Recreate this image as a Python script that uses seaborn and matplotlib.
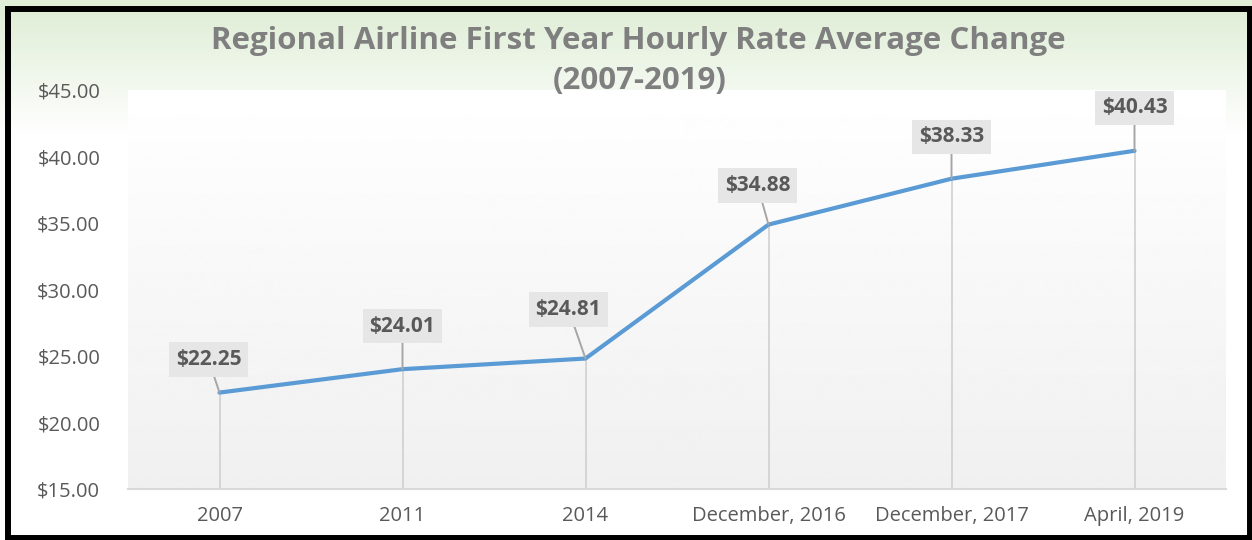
import numpy as np
import pandas as pd
import matplotlib
matplotlib.use('Agg')
import matplotlib.pyplot as plt
import seaborn as sns
from matplotlib.patches import Rectangle

# chart data
periods = ['2007', '2011', '2014', 'December, 2016', 'December, 2017', 'April, 2019']
hourly_rate = [22.25, 24.01, 24.81, 34.88, 38.33, 40.43]
y_ticks = [15, 20, 25, 30, 35, 40, 45]

# where each data label box sits relative to its point (pixels, x right / y up)
label_offsets = [(-11, 33), (0, 43), (-17, 49), (-11, 39), (0, 42), (0, 43)]

df = pd.DataFrame({'period': periods, 'rate': hourly_rate})

sns.set_style('white')
plt.rcParams['font.family'] = ['Open Sans', 'DejaVu Sans']

W, H = 1252, 540
fig = plt.figure(figsize=(W / 100, H / 100), dpi=100)

# figure background: light green at the top fading to white
bg = fig.add_axes([0, 0, 1, 1], zorder=-2)
rows = np.linspace(0, 1, H)
fade = np.clip((rows - 0.02) / 0.23, 0, 1)
top = np.array([224, 238, 215]) / 255
grad = top[None, :] * (1 - fade[:, None]) + fade[:, None]
bg.imshow(grad[:, None, :], aspect='auto', extent=[0, 1, 0, 1])
bg.axis('off')

# plot area
ax = fig.add_axes([128 / W, 51 / H, 1098 / W, 399 / H])
ax.patch.set_alpha(0)
shade = np.linspace(1.0, 0.94, 200)[:, None]
ax.imshow(shade, cmap='gray', vmin=0, vmax=1, extent=[0, 1, 0, 1],
          transform=ax.transAxes, aspect='auto', zorder=0)

xpos = np.arange(len(periods))
ax.vlines(xpos, y_ticks[0], hourly_rate, color='#d0d0d0', lw=1.2, zorder=1)
sns.lineplot(data=df, x='period', y='rate', color='#5b9bd5', lw=3, ax=ax, zorder=3)

# data labels with leader lines
for x, v, (dx, dy) in zip(xpos, hourly_rate, label_offsets):
    ax.annotate(f'${v:.2f}', xy=(x, v), xytext=(dx, dy), textcoords='offset pixels',
                ha='center', va='center', fontsize=15, fontweight='bold', color='#595959',
                bbox=dict(boxstyle='square,pad=0.32', fc='#e6e6e6', ec='none'),
                arrowprops=dict(arrowstyle='-', color='#a6a6a6', lw=1.4, shrinkA=0, shrinkB=0),
                zorder=4)

ax.set_xlim(-0.5, len(periods) - 0.5)
ax.set_ylim(y_ticks[0], y_ticks[-1])
ax.set_yticks(y_ticks)
ax.set_yticklabels([f'${v:.2f}' for v in y_ticks])
ax.set_xticks(xpos)
ax.set_xticklabels(periods)
ax.set_xticks(np.arange(-0.5, len(periods), 1), minor=True)
ax.set_xlabel('')
ax.set_ylabel('')

sns.despine(ax=ax, left=True)
ax.spines['bottom'].set_color('#d9d9d9')
ax.spines['bottom'].set_linewidth(1.5)
ax.tick_params(axis='y', length=0, pad=20, labelsize=14.5, labelcolor='#595959')
ax.tick_params(axis='x', which='major', length=0, pad=12, labelsize=14.5, labelcolor='#595959')
ax.tick_params(axis='x', which='minor', length=5, width=1.5, color='#d9d9d9', direction='out')

# title
title_style = dict(ha='center', va='baseline', fontsize=22.5, fontweight='bold', color='#7f7f7f')
fig.text(0.51, 1 - 49 / H, 'Regional Airline First Year Hourly Rate Average Change', **title_style)
fig.text(0.511, 1 - 89 / H, '(2007-2019)', zorder=5, **title_style)

# black frame around the chart
fig.patches.append(Rectangle((8 / W, 2.5 / H), 1241.5 / W, 528.5 / H, transform=fig.transFigure,
                             fill=False, lw=4.3, ec='black'))

fig.savefig('out.png', dpi=100)
